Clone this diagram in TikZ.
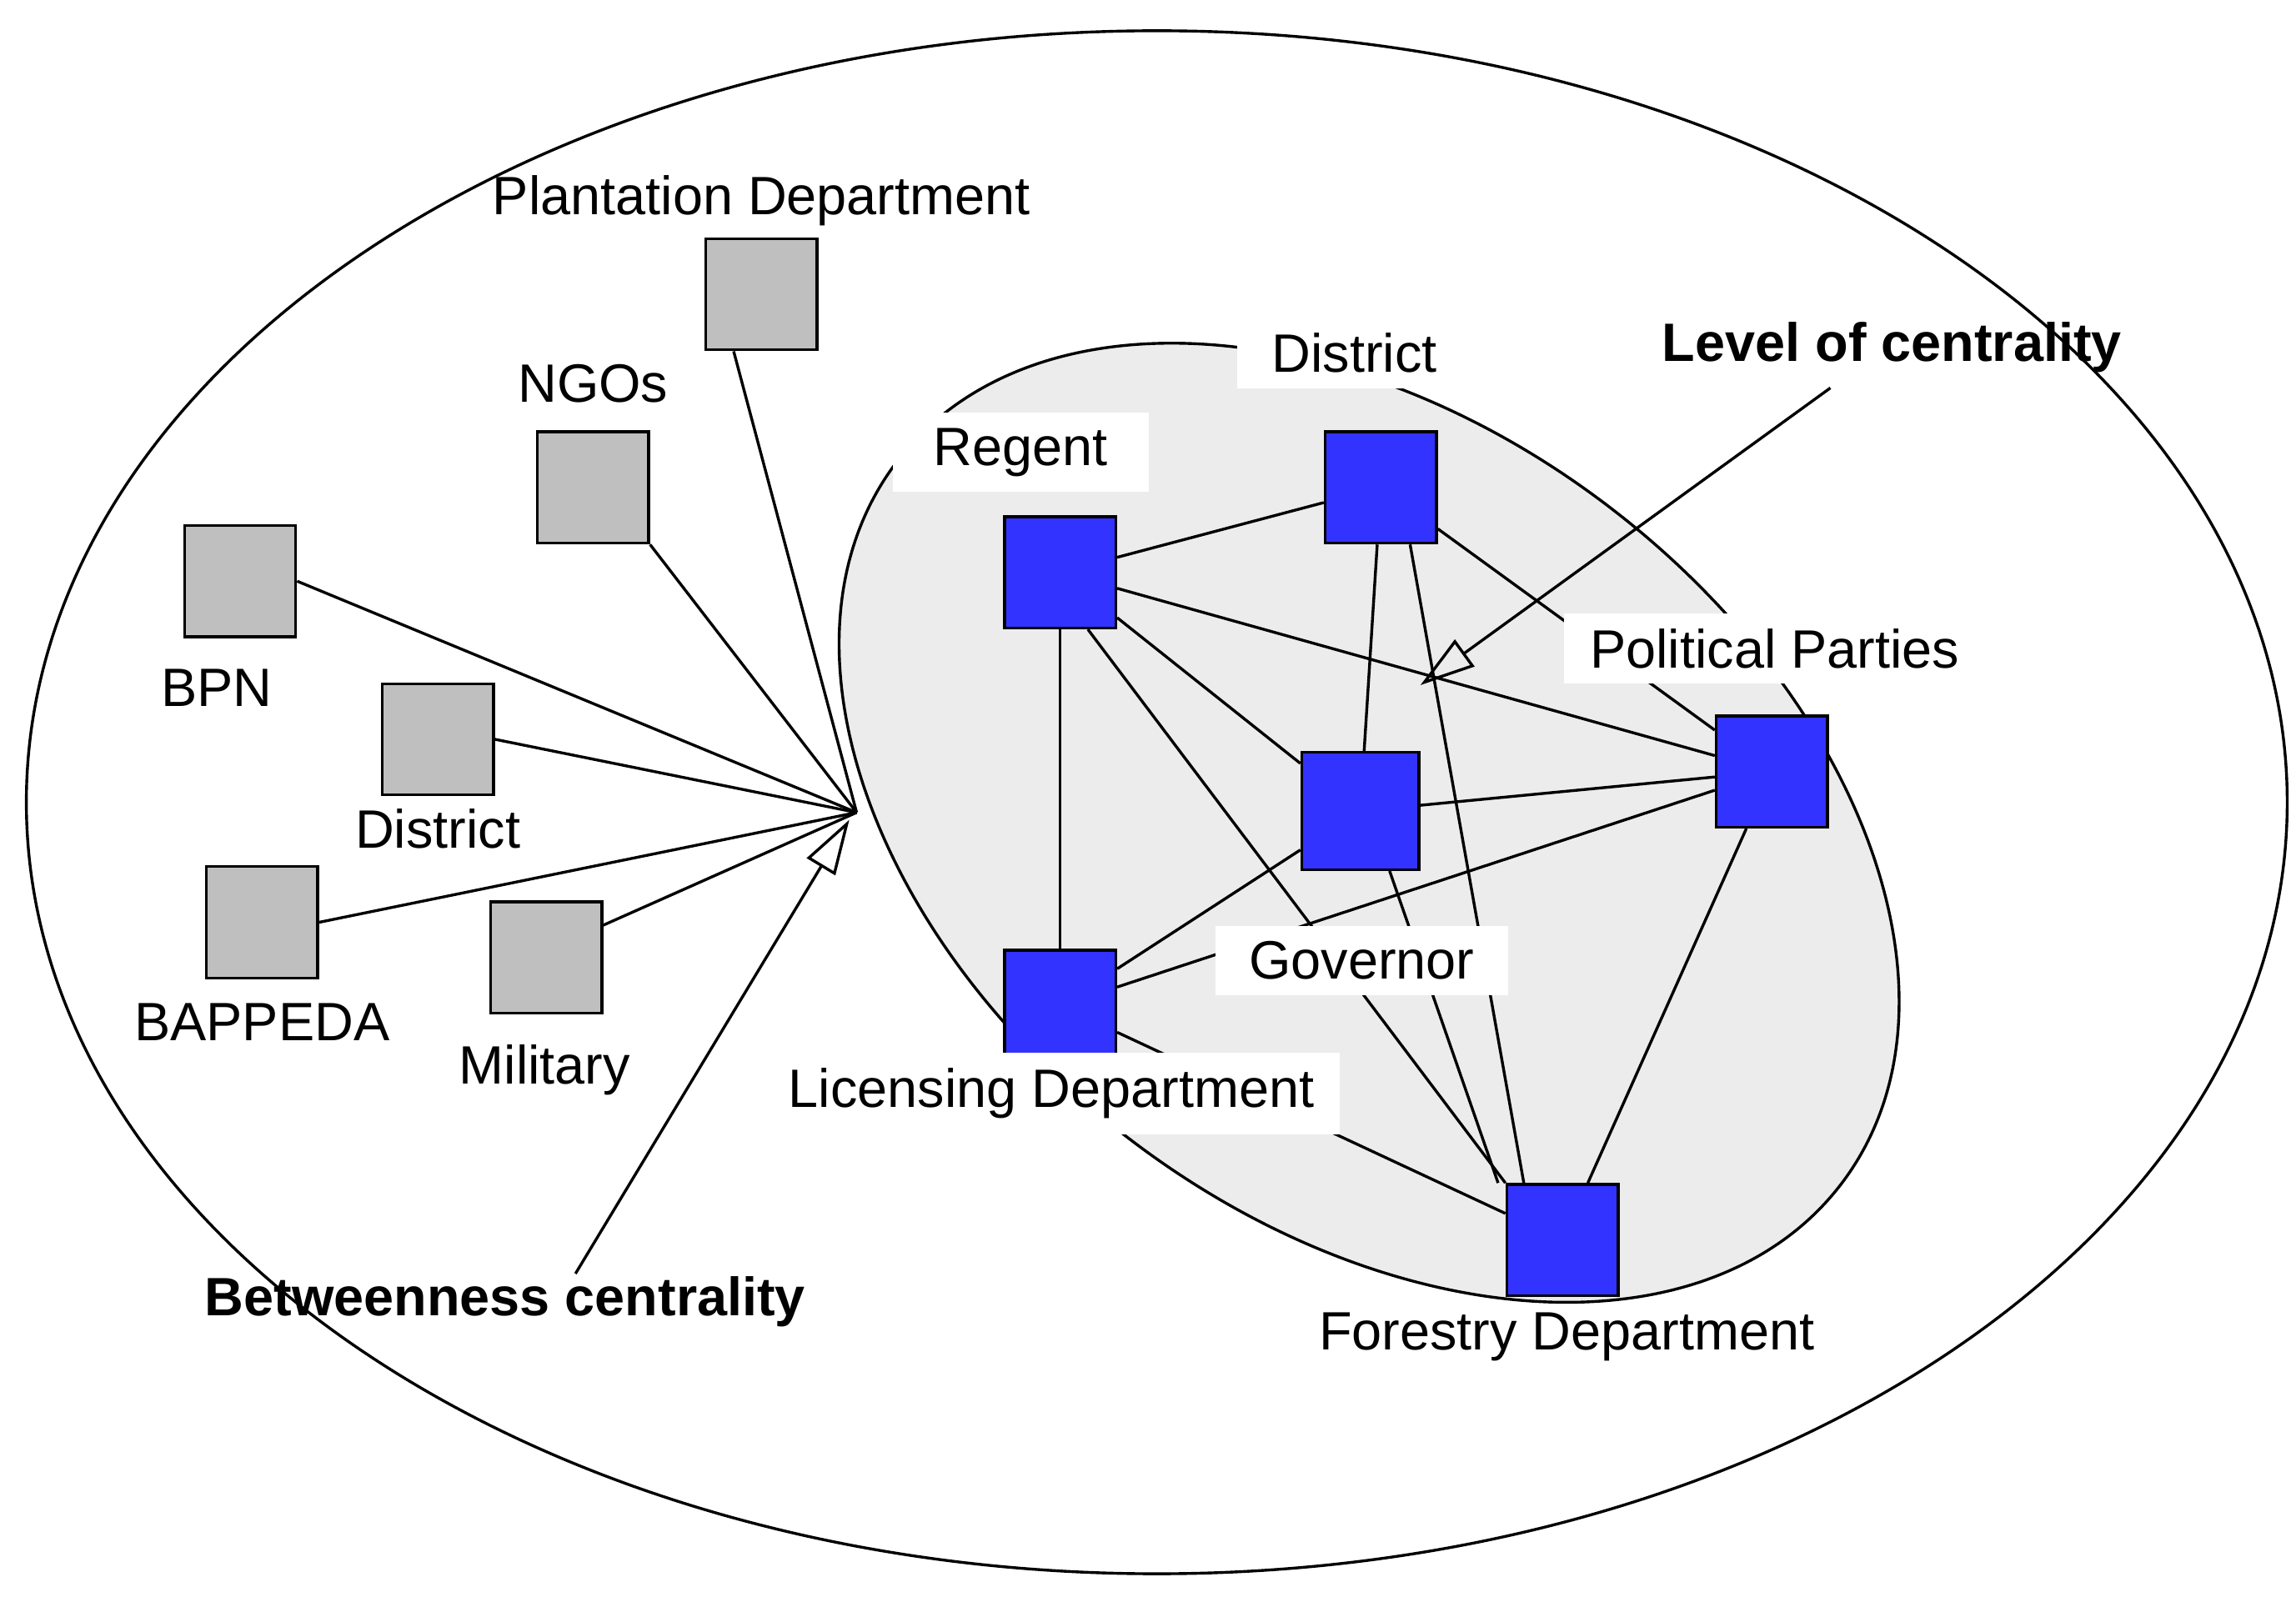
\documentclass[tikz,border=0pt]{standalone}
\usepackage{fontspec}
\setmainfont{Liberation Sans}
\usetikzlibrary{arrows.meta}
\begin{document}
\begin{tikzpicture}[x=0.02cm,y=-0.02cm,
  lw/.style={line width=1.1pt},
  gbox/.style={draw,lw,fill=gray!50,minimum size=1.52cm,inner sep=0pt},
  bbox/.style={draw,lw,fill=blue!80!white,minimum size=1.52cm,inner sep=0pt},
  lab/.style={font=\fontsize{21}{25}\selectfont,inner sep=2pt},
  wlab/.style={lab,fill=white,inner ysep=6pt,inner xsep=10pt},
  blab/.style={lab,font=\fontsize{21}{25}\selectfont\bfseries},
  edge/.style={lw},
  pointer/.style={lw,-{Triangle[open,length=0.75cm,width=0.45cm]}}]
\useasboundingbox (0,0) rectangle (1568,1094);
\fill[white] (0,0) rectangle (1568,1094);
\draw[lw] (790,548) ellipse [x radius=772, y radius=527];
\draw[lw,fill=gray!15] (935,562) ellipse [x radius=406, y radius=271, rotate=-37.5];
\coordinate (hub) at (585,555);
% gray nodes
\node[gbox] (plant) at (520,201) {};
\node[gbox] (ngo) at (405,333) {};
\node[gbox] (bpn) at (164,397) {};
\node[gbox] (dg) at (299,505) {};
\node[gbox] (bap) at (179,630) {};
\node[gbox] (mil) at (373,654) {};
\draw[edge] (plant.south west)++(20,0) -- (hub);
\draw[edge] (ngo.south east) -- (hub);
\draw[edge] (bpn.east) -- (hub);
\draw[edge] (dg.east) -- (hub);
\draw[edge] (bap.east) -- (hub);
\draw[edge] (mil.east)++(0,-22) -- (hub);
\node[lab] at (520,137) {Plantation Department};
\node[lab] at (405,262) {NGOs};
\node[lab] at (148,470) {BPN};
\node[lab] at (299,566) {District};
\node[lab] at (179,698) {BAPPEDA};
\node[lab] at (372,731) {Military};
% blue nodes
\node[bbox] (reg) at (724,391) {};
\node[bbox] (dis) at (943,333) {};
\node[bbox,minimum size=1.6cm] (cen) at (929,554) {};
\node[bbox] (pol) at (1210,527) {};
\node[bbox] (lic) at (724,687) {};
\node[bbox] (for) at (1067,847) {};
\draw[edge] (reg) -- (dis);
\draw[edge] (reg) -- (pol);
\draw[edge] (reg) -- (cen);
\draw[edge] (reg) -- (lic);
\draw[edge] (reg.south east)++(-20,0) -- (for.north west);
\draw[edge] (dis) -- (cen);
\draw[edge] (dis.south)++(20,0) -- ([xshift=-15]for.north);
\draw[edge] (dis) -- (pol);
\draw[edge] (cen) -- (pol);
\draw[edge] (cen) -- (lic);
\draw[edge] (cen.south)++(20,0) -- ([xshift=-25]for.north);
\draw[edge] (pol) -- (lic);
\draw[edge] (pol) -- (for);
\draw[edge] (lic) -- (for);
% redraw blue nodes on top
\node[bbox] at (724,391) {};
\node[bbox] at (943,333) {};
\node[bbox,minimum size=1.6cm] at (929,554) {};
\node[bbox] at (1210,527) {};
\node[bbox] at (724,687) {};
\node[bbox] at (1067,847) {};
% labels
\node[wlab,minimum width=3.5cm] at (697,309) {Regent};
\node[wlab,minimum width=3.2cm] at (925,241) {District};
\node[wlab] at (1212,443) {Political Parties};
\node[wlab,minimum width=4cm] at (930,656) {Governor};
\node[wlab] at (718,747) {Licensing Department};
\node[lab] at (1070,913) {Forestry Department};
\node[blab] (loc) at (1292,237) {Level of centrality};
\node[blab] (btw) at (345,889) {Betweenness centrality};
\draw[pointer] (1250,265) -- (970,468);
\draw[pointer] (393,870) -- (580,560);
\end{tikzpicture}
\end{document}
